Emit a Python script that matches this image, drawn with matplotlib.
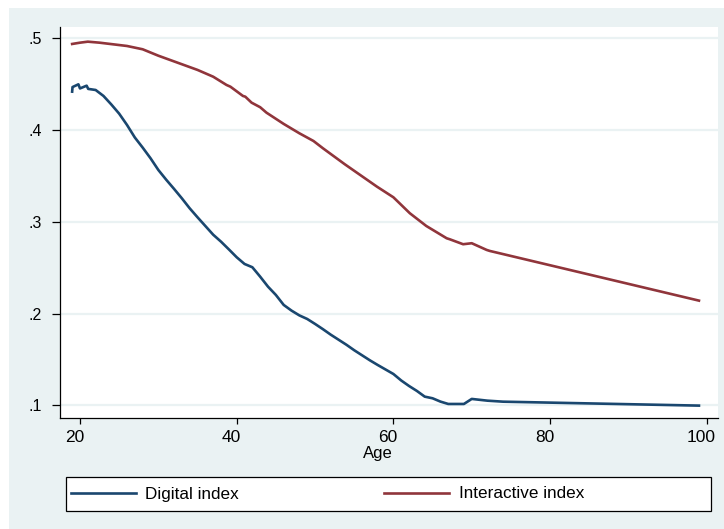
import matplotlib
matplotlib.use("Agg")
import matplotlib.pyplot as plt
from matplotlib.patches import Rectangle
from matplotlib.transforms import ScaledTranslation

plt.rcParams["font.family"] = ["Liberation Sans", "DejaVu Sans"]

# Digital index by age
digital_age = [19.0, 19.05, 19.8, 20.0, 20.85, 21.05, 22, 23, 24, 25, 26, 27, 28, 29,
               30, 31, 32, 33, 34, 35, 36, 37, 38, 39, 40, 41, 42, 43, 44, 45, 46,
               47, 48, 49, 50, 51, 52, 53, 54, 55, 56, 57, 58, 59, 60, 61, 62, 63,
               64, 65, 66, 67, 69, 70, 72, 74, 99]
digital_val = [0.442, 0.447, 0.450, 0.4455, 0.4485, 0.445, 0.4438, 0.4373, 0.428,
               0.418, 0.4057, 0.392, 0.381, 0.3694, 0.3566, 0.346, 0.336, 0.3257,
               0.3148, 0.305, 0.2955, 0.286, 0.2784, 0.270, 0.2614, 0.2541, 0.2505,
               0.2402, 0.2293, 0.2203, 0.2094, 0.2032, 0.198, 0.1941, 0.1887, 0.183,
               0.177, 0.1715, 0.166, 0.160, 0.1545, 0.149, 0.1439, 0.139, 0.1341,
               0.127, 0.1210, 0.1156, 0.1094, 0.1076, 0.104, 0.1014, 0.1014, 0.1069,
               0.1050, 0.1039, 0.0996]

# Interactive index by age
interactive_age = [19.0, 20, 21, 22.5, 26, 28, 30, 33, 35, 37, 38.7, 39.2, 40.8, 41.1,
                   41.9, 43, 43.8, 46, 48, 49.8, 51, 53.8, 57.9, 60, 62.1, 64.2, 66.8,
                   67.2, 68.9, 70, 71.9, 72.3, 99]
interactive_val = [0.494, 0.4954, 0.4965, 0.4954, 0.4918, 0.4882, 0.4812, 0.4719,
                   0.4657, 0.4583, 0.4493, 0.4474, 0.4373, 0.4365, 0.430, 0.425,
                   0.4191, 0.4068, 0.3966, 0.3882, 0.3803, 0.3628, 0.3384, 0.3268,
                   0.3094, 0.2955, 0.2821, 0.281, 0.2756, 0.2767, 0.2694, 0.2683,
                   0.2141]

x_ticks = [20, 40, 60, 80, 100]
y_ticks = [0.1, 0.2, 0.3, 0.4, 0.5]
y_labels = [".1", ".2", ".3", ".4", ".5"]

BG = "#EAF2F3"
NAVY = "#1A476F"
MAROON = "#90353B"

W, H = 724, 529
fig = plt.figure(figsize=(W / 100, H / 100), dpi=100, facecolor="white")

# outer graph region
fig.patches.append(Rectangle((9 / W, 0), 1 - 9 / W, 1 - 8 / H,
                             transform=fig.transFigure, facecolor=BG,
                             edgecolor="none", zorder=-10))

ax = fig.add_axes([60 / W, 1 - 418 / H, 658 / W, 391 / H])
ax.set_facecolor("white")

ax.plot(digital_age, digital_val, color=NAVY, lw=1.9, label="Digital index")
ax.plot(interactive_age, interactive_val, color=MAROON, lw=1.9,
        label="Interactive index")

ax.set_xlim(17.45, 101.43)
ax.set_ylim(0.0861, 0.5125)

ax.set_xticks(x_ticks)
ax.set_yticks(y_ticks)
ax.set_yticklabels(y_labels)
ax.grid(axis="y", color=BG, lw=1.6)
ax.set_axisbelow(True)

for side in ["top", "right"]:
    ax.spines[side].set_visible(False)
for side in ["left", "bottom"]:
    ax.spines[side].set_linewidth(0.9)
    ax.spines[side].set_color("black")

ax.tick_params(axis="x", length=4.5, width=0.9, pad=4.2, labelsize=12.5)
ax.tick_params(axis="y", length=5.8, width=0.9, pad=7, labelsize=11.5)

# the x labels sit a little left of their ticks in the original
shift = ScaledTranslation(-5.5 / 100, 0, fig.dpi_scale_trans)
for lab in ax.get_xticklabels():
    lab.set_transform(lab.get_transform() + shift)

ax.set_xlabel("Age", fontsize=12)
ax.xaxis.set_label_coords((378 - 60) / 658, -(446 - 418) / 391)

# legend box spanning the bottom
fig.patches.append(Rectangle((66 / W, 1 - 511 / H), 645 / W, 34 / H,
                             transform=fig.transFigure, facecolor="white",
                             edgecolor="black", lw=0.9, zorder=1))
leg = fig.legend(loc="center left", bbox_to_anchor=(66 / W, 1 - 494 / H),
                 ncol=2, frameon=False, fontsize=12.3, handlelength=3.8,
                 handletextpad=0.55, columnspacing=8.5, borderaxespad=0,
                 borderpad=0.3)

fig.savefig("out.png", dpi=100, facecolor="white")
